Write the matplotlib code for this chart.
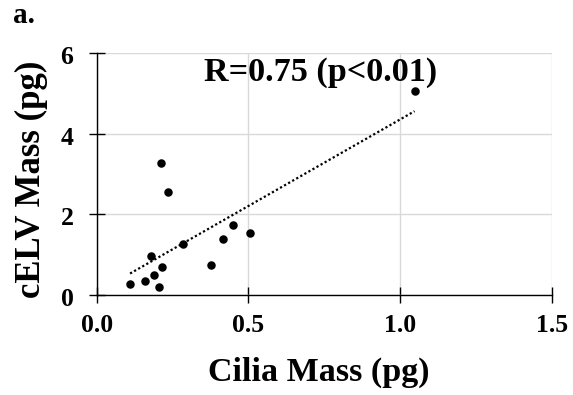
import numpy as np
import matplotlib
matplotlib.use("Agg")
import matplotlib.pyplot as plt
import matplotlib.transforms as mtransforms

plt.rcParams["font.family"] = ["Liberation Serif", "DejaVu Serif"]
plt.rcParams["font.weight"] = "bold"

# data
cilia_mass = [0.110, 0.160, 0.179, 0.190, 0.204, 0.214, 0.213, 0.234,
              0.284, 0.377, 0.415, 0.451, 0.505, 1.048]
celv_mass = [0.27, 0.34, 0.97, 0.49, 0.19, 0.70, 3.28, 2.55,
             1.26, 0.74, 1.40, 1.74, 1.55, 5.06]
x_ticks = [0.0, 0.5, 1.0, 1.5]
y_ticks = [0, 2, 4, 6]

x = np.array(cilia_mass)
y = np.array(celv_mass)
slope, intercept = np.polyfit(x, y, 1)
xfit = np.array([x.min(), x.max()])

fig = plt.figure(figsize=(5.73, 3.95), dpi=100)
ax = fig.add_axes([0.1688, 0.2532, 0.7939, 0.6118])

ax.grid(True, color="#d9d9d9", linewidth=1.0, zorder=0)
ax.scatter(x, y, s=26, color="black", zorder=3)
ax.plot(xfit, slope * xfit + intercept, color="black", linestyle=(0, (1, 1.1)),
        linewidth=1.6, zorder=2)

ax.set_xlim(0, 1.5)
ax.set_ylim(0, 6)
ax.set_xticks(x_ticks)
ax.set_xticklabels([f"{v:.1f}" for v in x_ticks])
ax.set_yticks(y_ticks)
ax.tick_params(direction="inout", length=11.5, width=1.0, labelsize=18.5)
ax.tick_params(axis="x", pad=8)
ax.tick_params(axis="y", pad=11)
shift = mtransforms.ScaledTranslation(0, -2 / 100, fig.dpi_scale_trans)
for lab in ax.get_yticklabels():
    lab.set_transform(lab.get_transform() + shift)
for s in ["top", "right"]:
    ax.spines[s].set_visible(False)
for s in ["left", "bottom"]:
    ax.spines[s].set_linewidth(1.0)
ax.set_axisbelow(True)

ax.text(0.737, 5.33, "R=0.75 (p<0.01)", ha="center", va="baseline",
        fontsize=24.6, fontweight="bold")

fig.text(31 / 573, 1 - 179 / 395, "cELV Mass (pg)", rotation=90,
         ha="center", va="center", fontsize=25, fontweight="bold")
fig.text(319 / 573, 1 - 380.5 / 395, "Cilia Mass (pg)", ha="center",
         va="baseline", fontsize=24.5, fontweight="bold")
fig.text(13 / 573, 1 - 23 / 395, "a.", ha="left", va="baseline",
         fontsize=21, fontweight="bold")

fig.savefig("out.png", dpi=100)
